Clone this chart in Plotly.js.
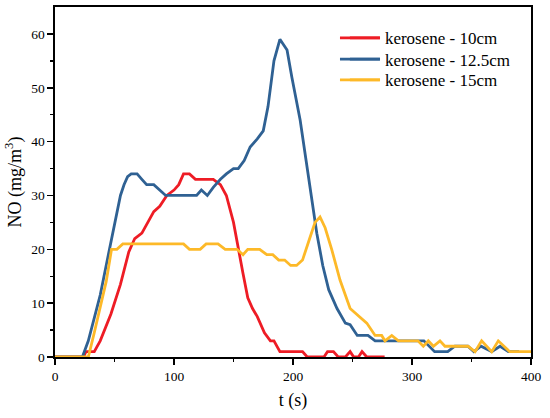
<!DOCTYPE html>
<html>
<head>
<meta charset="utf-8">
<script src="https://cdn.plot.ly/plotly-3.0.1.min.js"></script>
<style>html,body{margin:0;padding:0;background:#fff;}#chart{width:550px;height:418px;}</style>
</head>
<body>
<div id="chart"></div>
<script>
// Time (s) and NO concentration (mg/m3)
const tRed = [0, 24, 26, 33, 38, 47, 55, 62, 67, 73, 78, 83, 88, 94, 100, 104, 108, 113, 118, 133, 139, 144, 150, 154, 158, 162, 166, 170, 176, 181, 184, 189, 208, 212, 226, 229, 234, 238, 244, 248, 251, 255, 258, 262, 277];
const vRed = [0, 0, 1, 1, 3, 8, 13.5, 19.5, 22, 23, 25, 27, 28, 30, 31, 32, 34, 34, 33, 33, 32, 30, 25, 20, 15.5, 11, 9, 7.5, 4.5, 3, 3, 1, 1, 0, 0, 1, 1, 0, 0, 1, 0, 0, 1, 0, 0];

const tBlue = [0, 23, 28, 33, 38, 43, 48, 52, 55, 58, 61, 64, 69, 73, 77, 83, 88, 93, 119, 123, 128, 133, 139, 144, 150, 154, 159, 164, 170, 175, 179, 184, 189, 195, 199, 206, 211, 216, 220, 225, 230, 237, 244, 248, 254, 263, 269, 305, 310, 319, 330, 336, 347, 352, 358, 367, 374, 381, 390];
const vBlue = [0, 0, 3, 7, 11.5, 17, 22.5, 26.5, 30, 32, 33.5, 34, 34, 33, 32, 32, 31, 30, 30, 31, 30, 31.5, 33, 34, 35, 35, 36.5, 39, 40.5, 42, 46.5, 55, 59, 57, 52, 44, 36.5, 29, 23, 17, 12.5, 9, 6.3, 6, 4, 4, 3, 3, 3, 1, 1, 2, 2, 1, 2, 1, 2, 1, 1];

const tYellow = [0, 28, 33, 38, 43, 47.5, 52, 57, 108, 113, 122, 127, 137, 143, 153, 158, 162, 172, 178, 183, 188, 193, 198, 203, 208, 214, 218.5, 222.7, 227, 232.5, 239.5, 248, 253.5, 262, 269, 274.5, 277.3, 283, 288.6, 305, 309.5, 313.7, 318, 323.5, 327.7, 347, 353, 358.5, 367, 372.5, 382, 400];
const vYellow = [0, 0, 4.5, 9.5, 14, 20, 20, 21, 21, 20, 20, 21, 21, 20, 20, 19, 20, 20, 19, 19, 18, 18, 17, 17, 18, 22, 25, 26, 24, 20, 14.3, 9, 8, 6.3, 4, 4, 3, 4, 3, 3, 2, 3, 2, 3, 2, 2, 1, 3, 1, 3, 1, 1];

const seriesNames = ['kerosene - 10cm', 'kerosene - 12.5cm', 'kerosene - 15cm'];
const seriesColors = ['#ee1c25', '#2f6193', '#fdb928'];
const xTicks = [0, 100, 200, 300, 400];
const yTicks = [0, 10, 20, 30, 40, 50, 60];

const FONT = 'Liberation Serif, Times New Roman, serif';
const LW = 2.8;
const LEG_FONT = 17;

const legendIds = ['legend', 'legend2', 'legend3'];
const legendTops = [0.962, 0.901, 0.842];
// centre of a legend entry line below the legend top: (h/2 + itemGap) / plot height
const legendLineOffset = ((LEG_FONT * 1.3 + 3) / 2 + 5) / 350;

const xs = [tRed, tBlue, tYellow];
const ys = [vRed, vBlue, vYellow];
const traces = xs.map((x, i) => ({
  type: 'scatter', mode: 'lines', cliponaxis: false,
  x: x, y: ys[i], name: seriesNames[i], legend: legendIds[i],
  line: {color: seriesColors[i], width: LW}
}));

const axisCommon = {
  showgrid: false, zeroline: false,
  showline: true, linecolor: '#000', linewidth: 1.6, mirror: true,
  ticks: 'outside', ticklen: 6, tickwidth: 1.6, tickcolor: '#000',
  tickfont: {family: FONT, size: 13.5, color: '#000'}
};

const layout = {
  width: 550, height: 418,
  margin: {l: 55, r: 19, t: 7, b: 61},
  paper_bgcolor: '#fff', plot_bgcolor: '#fff',
  font: {family: FONT, color: '#000'},
  showlegend: true,
  xaxis: Object.assign({}, axisCommon, {
    range: [0, 400], tickvals: xTicks, ticktext: xTicks.map(String),
    minor: {tickvals: [50, 150, 250, 350], ticks: 'outside', ticklen: 3.5, tickwidth: 1.4, tickcolor: '#000'},
    title: {text: 't (s)', font: {family: FONT, size: 18, color: '#000'}, standoff: 10}
  }),
  yaxis: Object.assign({}, axisCommon, {
    range: [0, 65], tickvals: yTicks, ticktext: yTicks.map(String),
    minor: {tickvals: [5, 15, 25, 35, 45, 55], ticks: 'outside', ticklen: 3.5, tickwidth: 1.4, tickcolor: '#000'},
    title: {text: 'NO (mg/m<sup>3</sup>)', font: {family: FONT, size: 18, color: '#000'}, standoff: 5}
  }),
  shapes: legendTops.map((top, i) => ({
    type: 'line', xref: 'paper', yref: 'paper', x0: 0.5987, x1: 0.6828,
    y0: top - legendLineOffset, y1: top - legendLineOffset,
    line: {color: seriesColors[i], width: LW}
  }))
};
legendIds.forEach((id, i) => {
  layout[id] = {
    x: 0.609, y: legendTops[i], xanchor: 'left', yanchor: 'top',
    bgcolor: 'rgba(0,0,0,0)', borderwidth: 0,
    font: {family: FONT, size: LEG_FONT, color: '#000'}
  };
});

Plotly.newPlot('chart', traces, layout, {staticPlot: true, displayModeBar: false});
</script>
</body>
</html>
